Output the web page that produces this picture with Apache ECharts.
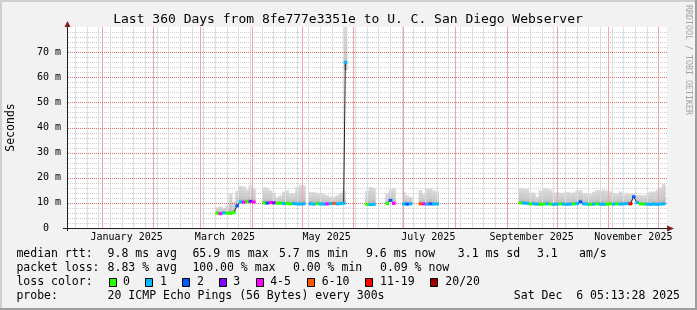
<!DOCTYPE html>
<html><head><meta charset="utf-8">
<script src="https://cdn.jsdelivr.net/npm/echarts@6/dist/echarts.min.js"></script>
<style>
html,body{margin:0;padding:0;background:#f2f2f2;}
#wrap{position:relative;width:697px;height:310px;background:#f2f2f2;overflow:hidden;}
#chart{position:absolute;left:0;top:0;width:697px;height:310px;}
.b{position:absolute;pointer-events:none;}
</style></head><body>
<div id="wrap"><div id="chart"></div>
<div class="b" style="left:0;top:0;width:697px;height:2px;background:#cfcfcf"></div>
<div class="b" style="left:0;top:0;width:2px;height:310px;background:#cfcfcf"></div>
<div class="b" style="left:0;bottom:0;width:697px;height:2px;background:#9e9e9e"></div>
<div class="b" style="right:0;top:0;width:2px;height:310px;background:#9e9e9e"></div>
</div>
<script>
const DAY = 86400000;
const START = Date.UTC(2024, 11, 11, 5, 13, 28);
const END = Date.UTC(2025, 11, 6, 5, 13, 28);

// day offsets from START (2-day bins)
const days = [
  90, 92, 94, 96, 98, 100,
  102, 104, 106, 108, 110, 112,
  118, 120, 122, 124, 126, 128, 130, 132, 134, 136, 138, 140, 142,
  146, 148, 150, 152, 154, 156, 158, 160, 162, 164, 166,
  180, 182, 184,
  192, 194, 196,
  202, 204, 206,
  212, 214, 216, 218, 220, 222,
  272, 274, 276, 278, 280, 282, 284, 286, 288, 290,
  292, 294, 296, 298, 300, 302, 304, 306, 308, 310,
  312, 314, 316, 318, 320, 322, 324, 326, 328, 330,
  332, 334, 336, 338, 340, 342, 344, 346, 348, 350,
  352, 354, 356, 358
];
// median rtt in ms
const median = [
  5.9, 5.7, 6.0, 5.9, 5.8, 6.1,
  8.8, 10.4, 10.3, 10.5, 10.6, 10.3,
  10.0, 9.9, 10.1, 10.0, 9.8, 9.9, 9.7, 9.8, 9.6, 9.7, 9.6, 9.5, 9.6,
  9.6, 9.5, 9.7, 9.6, 9.5, 9.6, 9.7, 9.8, 9.6, 9.7, 9.8,
  9.4, 9.3, 9.4,
  9.7, 11.0, 9.8,
  9.6, 9.5, 9.6,
  9.6, 9.6, 9.5, 9.6, 9.5, 9.6,
  10.0, 9.9, 9.8, 9.6, 9.6, 9.5, 9.4, 9.5, 9.6, 9.5,
  9.4, 9.5, 9.6, 9.5, 9.4, 9.5, 9.6, 9.7, 10.4, 9.6,
  9.5, 9.4, 9.5, 9.6, 9.5, 9.4, 9.5, 9.6, 9.5, 9.6,
  9.5, 9.6, 9.7, 9.6, 12.4, 10.1, 9.6, 9.5, 9.5, 9.4,
  9.5, 9.4, 9.5, 9.6
];
// loss class index (0 .. 7)
const loss = [
  0, 4, 1, 0, 0, 0,
  2, 1, 4, 0, 3, 4,
  0, 2, 4, 3, 0, 0, 1, 0, 0, 1, 1, 1, 1,
  1, 1, 0, 1, 1, 4, 1, 5, 1, 1, 1,
  0, 1, 1,
  0, 2, 4,
  1, 2, 1,
  5, 4, 1, 2, 1, 1,
  0, 1, 1, 0, 1, 1, 0, 0, 1, 0,
  1, 1, 0, 1, 1, 1, 0, 1, 2, 1,
  1, 0, 1, 0, 1, 1, 0, 0, 1, 0,
  1, 1, 1, 6, 2, 1, 0, 0, 1, 1,
  1, 1, 1, 1
];
// top of the smoke (ms)
const smokeTop = [
  8.3, 8.6, 8.0, 9.0, 13.8, 10.5,
  14.8, 16.8, 16.5, 15.3, 17.1, 16.0,
  16.3, 16.0, 15.0, 14.0, 12.3, 13.0, 14.5, 15.0, 13.8, 13.8, 16.4, 17.2, 17.0,
  14.3, 14.3, 14.0, 13.8, 13.5, 13.0, 12.5, 12.3, 13.0, 14.0, 15.0,
  14.8, 16.4, 16.0,
  13.8, 15.5, 15.8,
  14.4, 13.0, 12.4,
  15.1, 13.8, 15.8, 15.8, 15.0, 14.6,
  15.8, 15.8, 15.5, 14.1, 14.1, 12.5, 15.0, 15.8, 15.8, 15.2,
  14.1, 14.3, 14.0, 14.1, 14.4, 14.0, 14.2, 15.1, 15.1, 13.8,
  13.8, 13.6, 14.5, 15.1, 15.1, 15.3, 15.0, 14.6, 14.0, 13.5,
  14.5, 13.3, 14.0, 13.6, 13.5, 13.1, 13.1, 13.0, 13.4, 14.5,
  14.5, 15.1, 16.2, 17.6
];
// the single spike
const spikeDay = [167];
const spikeMedian = [65.9];
const spikeLoss = [1];
const spikeLow = [62.9];
const spikeTop = [80];

const lossLabels = ['0', '1', '2', '3', '4-5', '6-10', '11-19', '20/20'];
const lossColors = ['#26ff00', '#00b8ff', '#0059ff', '#7e00ff', '#ff00ff', '#ff5500', '#ff0000', '#a10000'];

const labelMonths = [0, 2, 4, 6, 8, 10];
const labelNames = ['January 2025', 'March 2025', 'May 2025', 'July 2025', 'September 2025', 'November 2025'];
const gridMonths = [0, 1, 2, 3, 4, 5, 6, 7, 8, 9, 10, 11];
const yMajor = [10, 20, 30, 40, 50, 60, 70];

const FONT = '"DejaVu Sans Mono", monospace';
const GRID = {left: 67, top: 27, width: 600, height: 201};
const YMAX = 80;
// per kind: week, month, minor y, major y
const GRID_COLOR = ['#dedede', '#f0a4a4', '#cdcdcd', '#e36b6b'];
const GRID_DASH = [null, null, [1, 1], [1, 1]];

const monthTimes = gridMonths.map(m => Date.UTC(2025, m, 1));
const labelTimes = labelMonths.map(m => Date.UTC(2025, m, 1) + 15 * DAY);
const weekTimes = [];
for (let t = Date.UTC(2024, 11, 16); t < END; t += 7 * DAY) weekTimes.push(t);
const yMinor = [];
for (let v = 2; v < YMAX; v += 2) if (v % 10 !== 0) yMinor.push(v);

// grid lines: [value, kind]  kind 0 = week, 1 = month, 2 = minor y, 3 = major y
const gridData = [].concat(
  weekTimes.map(t => [t, 0]),
  yMinor.map(v => [v, 2]),
  monthTimes.map(t => [t, 1]),
  yMajor.map(v => [v, 3])
);

const pts = [];
for (let i = 0; i < days.length; i++) pts.push({d: days[i], m: median[i], l: loss[i], lo: median[i], hi: smokeTop[i]});
for (let i = 0; i < spikeDay.length; i++) pts.push({d: spikeDay[i], m: spikeMedian[i], l: spikeLoss[i], lo: spikeLow[i], hi: spikeTop[i]});
pts.sort((a, b) => a.d - b.d);

const smokeData = pts.map(p => [START + p.d * DAY, p.lo, p.hi]);
const markData = pts.map(p => [START + p.d * DAY, p.m, p.l]);
const lineData = [];
pts.forEach((p, i) => {
  if (i > 0 && p.d - pts[i - 1].d > 2.5) lineData.push([START + (p.d - 1) * DAY, null]);
  lineData.push([START + p.d * DAY, p.m]);
});

function smokeFill() {
  return new echarts.graphic.LinearGradient(0, 1, 0, 0, [
    {offset: 0, color: '#b0b0b0'},
    {offset: 0.3, color: '#c8c8c8'},
    {offset: 1, color: '#dcdcdc'}
  ]);
}
function renderSmoke(params, api) {
  const t = api.value(0), lo = api.value(1), hi = api.value(2);
  const a = api.coord([t - DAY, hi]);
  const b = api.coord([t + DAY, lo]);
  return {type: 'rect', shape: {x: a[0], y: a[1], width: b[0] - a[0] + 0.4, height: b[1] - a[1]},
    style: {fill: smokeFill()}};
}
function renderMark(params, api) {
  const t = api.value(0), m = api.value(1), li = api.value(2);
  const a = api.coord([t - DAY, m]);
  const b = api.coord([t + DAY, m]);
  return {type: 'rect', shape: {x: a[0], y: a[1] - 1.5, width: b[0] - a[0] + 0.3, height: 3},
    style: {fill: lossColors[li]}};
}
function renderGrid(params, api) {
  const v = api.value(0), k = api.value(1);
  let x1, y1, x2, y2;
  if (k < 2) {
    const a = api.coord([v, 0]), b = api.coord([v, YMAX]);
    x1 = x2 = Math.round(a[0]) + 0.5; y1 = a[1]; y2 = b[1];
  } else {
    const a = api.coord([START, v]), b = api.coord([END, v]);
    y1 = y2 = Math.round(a[1]) + 0.5; x1 = a[0] + 1; x2 = b[0];
  }
  return {type: 'line', shape: {x1: x1, y1: y1, x2: x2, y2: y2},
    style: {stroke: GRID_COLOR[k], lineWidth: 1, lineDash: GRID_DASH[k]}};
}

const texts = [];
function txt(id, x, y, s, opts) {
  texts.push(Object.assign({type: 'text', id: id, x: x, y: y, z: 20,
    style: Object.assign({text: s, font: '11.5px ' + FONT, fill: '#000', align: 'left', verticalAlign: 'middle'}, opts || {})}));
}
txt('title', 348, 20, 'Last 360 Days from 8fe777e3351e to U. C. San Diego Webserver', {font: '13px ' + FONT, align: 'center'});
txt('yname', 11, 127.5, 'Seconds', {align: 'center'});
texts[texts.length - 1].rotation = Math.PI / 2;
txt('wm', 688.5, 60, 'RRDTOOL / TOBI OETIKER', {font: '8.3px ' + FONT, fill: '#a3a3a3', align: 'center'});
texts[texts.length - 1].rotation = -Math.PI / 2;

const row1 = [[16.4, 'median rtt:'], [107.6, '9.8 ms avg'], [192.4, '65.9 ms max'], [279, '5.7 ms min'], [366, '9.6 ms now'], [457.8, '3.1 ms sd'], [537, '3.1'], [579, 'am/s']];
const row2 = [[16.4, 'packet loss:'], [107.6, '8.83 % avg'], [192.4, '100.00 % max'], [293, '0.00 % min'], [380, '0.09 % now']];
const row4 = [[16.4, 'probe:'], [107.6, '20 ICMP Echo Pings (56 Bytes) every 300s']];
row1.forEach((r, i) => txt('r1_' + i, r[0], 254.3, r[1]));
row2.forEach((r, i) => txt('r2_' + i, r[0], 268.3, r[1]));
row4.forEach((r, i) => txt('r4_' + i, r[0], 296, r[1]));
txt('date', 680, 296, 'Sat Dec  6 05:13:28 2025', {align: 'right'});
txt('lc', 16.4, 282.3, 'loss color:');
const boxX = [109, 145, 182, 219, 256, 307, 365, 430];
const boxLabelX = [123.1, 160, 196.9, 233.3, 270.2, 321.8, 380, 445.3];
const boxes = [];
lossLabels.forEach((lab, i) => {
  boxes.push({type: 'rect', id: 'box' + i, z: 20, shape: {x: boxX[i] + 0.5, y: 278.5, width: 7, height: 8},
    style: {fill: lossColors[i], stroke: '#000', lineWidth: 1}});
  txt('bl' + i, boxLabelX[i], 282.3, lab);
});

const L = GRID.left, T = GRID.top, R = GRID.left + GRID.width, B = GRID.top + GRID.height;
const deco = [
  {type: 'polygon', id: 'ya', z: 20, shape: {points: [[L + 0.5 - 3, T], [L + 0.5 + 3, T], [L + 0.5, T - 6]]}, style: {fill: '#7f1f1f'}},
  {type: 'polygon', id: 'xa', z: 20, shape: {points: [[R, B + 0.5 - 3], [R, B + 0.5 + 3], [R + 7, B + 0.5]]}, style: {fill: '#7f1f1f'}},
  {type: 'line', id: 'xl', z: 20, shape: {x1: L - 4, y1: B + 0.5, x2: L, y2: B + 0.5}, style: {stroke: '#1f1f1f', lineWidth: 1}},
  {type: 'line', id: 'yl', z: 20, shape: {x1: L + 0.5, y1: B, x2: L + 0.5, y2: B + 3}, style: {stroke: '#1f1f1f', lineWidth: 1}}
];

const chart = echarts.init(document.getElementById('chart'), null, {renderer: 'canvas'});
chart.setOption({
  animation: false,
  backgroundColor: 'transparent',
  grid: Object.assign({show: true, backgroundColor: '#ffffff', borderWidth: 0, containLabel: false, outerBoundsMode: 'none'}, GRID),
  xAxis: {
    type: 'value', min: START, max: END, z: 8,
    axisLine: {show: true, onZero: false, lineStyle: {color: '#1f1f1f', width: 1}},
    axisTick: {show: false},
    axisLabel: {
      show: true, customValues: labelTimes, fontFamily: FONT, fontSize: 10, color: '#000', margin: 4,
      hideOverlap: false,
      formatter: v => { const i = labelTimes.indexOf(v); return i >= 0 ? labelNames[i] : ''; }
    },
    splitLine: {show: false}
  },
  yAxis: {
    type: 'value', min: 0, max: YMAX, interval: 10, z: 8,
    axisLine: {show: true, lineStyle: {color: '#1f1f1f', width: 1}},
    axisTick: {show: false},
    axisLabel: {fontFamily: FONT, fontSize: 10, color: '#000', margin: 6, showMaxLabel: false,
      formatter: v => v === 0 ? '0  ' : v + ' m'},
    splitLine: {show: false}
  },
  series: [
    {type: 'custom', name: 'smoke', z: 1, silent: true, renderItem: renderSmoke, data: smokeData, encode: {x: 0, y: [1, 2]}},
    {type: 'custom', name: 'grid', z: 3, silent: true, renderItem: renderGrid, data: gridData, encode: {x: 0, y: 1}},
    {type: 'line', name: 'median', z: 6, silent: true, data: lineData, symbol: 'none', showSymbol: false,
      connectNulls: false, lineStyle: {color: '#1f1f1f', width: 1}},
    {type: 'custom', name: 'loss', z: 7, silent: true, renderItem: renderMark, data: markData, encode: {x: 0, y: 1}}
  ],
  graphic: {elements: texts.concat(boxes, deco)}
});
</script>
</body></html>
